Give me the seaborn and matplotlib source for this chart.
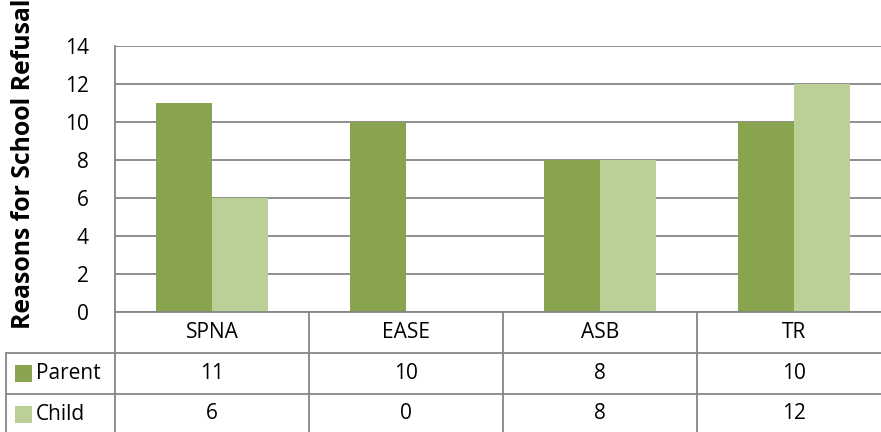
import matplotlib
matplotlib.use("Agg")
import matplotlib.pyplot as plt
import matplotlib.transforms as mtransforms
import seaborn as sns
import pandas as pd

categories = ["SPNA", "EASE", "ASB", "TR"]
series_names = ["Parent", "Child"]
parent_values = [11, 10, 8, 10]
child_values = [6, 0, 8, 12]
y_ticks = [0, 2, 4, 6, 8, 10, 12, 14]
y_label = "Reasons for School Refusal"

colors = {"Parent": "#88A44E", "Child": "#BBD097"}
grey = "#868686"

sns.set_theme(style="white")
plt.rcParams["font.family"] = ["Open Sans", "DejaVu Sans"]

W, H = 881, 432
fig = plt.figure(figsize=(W / 100, H / 100), dpi=100)

# plot area in pixel units (left, top, right, bottom); it runs past the right edge
L, T, B = 115, 46, 312
col_w = 194
R = L + col_w * len(categories)
ax = fig.add_axes([L / W, 1 - B / H, (R - L) / W, (B - T) / H])

df = pd.DataFrame({
    "category": categories * 2,
    "series": [series_names[0]] * 4 + [series_names[1]] * 4,
    "value": parent_values + child_values,
})
sns.barplot(data=df, x="category", y="value", hue="series", order=categories,
            hue_order=series_names, palette=colors, width=0.577,
            linewidth=0, saturation=1, legend=False, ax=ax, zorder=3)

ax.set_ylim(0, 14)
ax.set_xlim(-0.5, len(categories) - 0.5)
ax.set_yticks(y_ticks)
ax.set_yticklabels([str(t) for t in y_ticks], fontsize=15, color="black")
ax.tick_params(axis="y", length=0, pad=19)
ax.set_xticks([])
ax.set_xlabel("")
ax.set_ylabel("")
ax.grid(axis="y", color=grey, linewidth=1.3, zorder=0)
ax.set_axisbelow(True)
for s in ["top", "right", "bottom"]:
    ax.spines[s].set_visible(False)
ax.spines["left"].set_color(grey)
ax.spines["left"].set_linewidth(1.3)

fig.text(24 / W, 1 - 164 / H, y_label, rotation=90, ha="center", va="center",
         fontsize=17.8, fontweight="bold", color="black")

# data table drawn beneath the plot area, in pixel coordinates
px = mtransforms.Affine2D().scale(1 / W, -1 / H).translate(0, 1) + fig.transFigure
row_h = 41
line_kw = dict(color=grey, linewidth=1.3, transform=px, clip_on=False)

# horizontal rules
fig.add_artist(plt.Line2D([L, R], [B, B], **line_kw))
fig.add_artist(plt.Line2D([6, R], [B + row_h, B + row_h], **line_kw))
fig.add_artist(plt.Line2D([6, R], [B + 2 * row_h, B + 2 * row_h], **line_kw))
# vertical rules
fig.add_artist(plt.Line2D([6, 6], [B + row_h, H], **line_kw))
for i in range(len(categories) + 1):
    x = L + i * col_w
    fig.add_artist(plt.Line2D([x, x], [B, H], **line_kw))

text_kw = dict(transform=px, ha="center", va="center", fontsize=15, color="black")
for i, cat in enumerate(categories):
    xc = L + (i + 0.5) * col_w
    fig.text(xc, B + row_h / 2, cat, **text_kw)
    fig.text(xc, B + 1.5 * row_h, str(parent_values[i]), **text_kw)
    fig.text(xc, B + 2.5 * row_h - 1, str(child_values[i]), **text_kw)

for j, name in enumerate(series_names):
    yc = B + (j + 1.5) * row_h
    fig.add_artist(plt.Rectangle((15, yc - 8.5), 17, 17, facecolor=colors[name],
                                 edgecolor="none", transform=px))
    fig.text(36, yc, name, transform=px, ha="left", va="center",
             fontsize=15, color="black")

fig.savefig("out.png", dpi=100)
